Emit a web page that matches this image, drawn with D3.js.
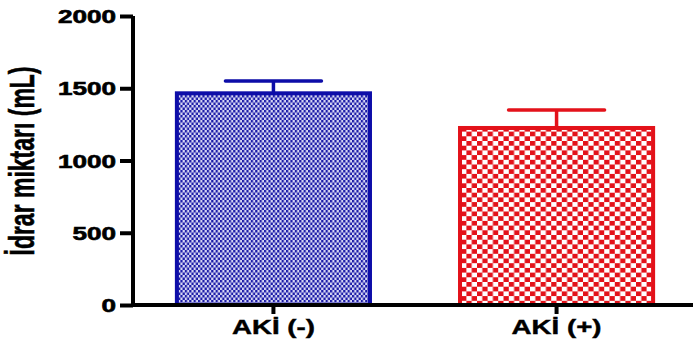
<!DOCTYPE html>
<html>
<head>
<meta charset="utf-8">
<script src="https://cdn.jsdelivr.net/npm/d3@7"></script>
<style>
  body { margin: 0; background: #fff; }
  svg { display: block; font-family: "Liberation Sans", Arial, sans-serif; font-weight: bold; }
</style>
</head>
<body>
<svg id="chart"></svg>
<script>
// values
const groups = ['AKİ (-)', 'AKİ (+)'];
const means = [1465, 1225];
const errors = [85, 125];
const yTicks = [0, 500, 1000, 1500, 2000];
const yTitle = 'İdrar miktarı (mL)';
const strokeColors = ['#0d0da8', '#e3121a'];

const WIDTH = 693, HEIGHT = 345;
const textStretch = 1.5; // the source image is stretched sideways

const svg = d3.select('#chart')
  .attr('width', WIDTH)
  .attr('height', HEIGHT);

const x = d3.scaleBand()
  .domain(groups)
  .range([133, 697])
  .paddingInner(0.318)
  .paddingOuter(0.155);

const y = d3.scaleLinear()
  .domain([0, 2000])
  .range([305, 16]);

// fill patterns: fine blue checker, coarser red checker
const defs = svg.append('defs');
const pBlue = defs.append('pattern')
  .attr('id', 'pat0')
  .attr('patternUnits', 'userSpaceOnUse')
  .attr('width', 4.4).attr('height', 5);
pBlue.append('rect').attr('width', 4.4).attr('height', 5).attr('fill', '#d6d6f4');
pBlue.append('rect').attr('width', 2.2).attr('height', 2.5).attr('fill', '#1c1ca8');
pBlue.append('rect').attr('x', 2.2).attr('y', 2.5).attr('width', 2.2).attr('height', 2.5).attr('fill', '#1c1ca8');

const pRed = defs.append('pattern')
  .attr('id', 'pat1')
  .attr('patternUnits', 'userSpaceOnUse')
  .attr('width', 10.6).attr('height', 9.4);
pRed.append('rect').attr('width', 10.6).attr('height', 9.4).attr('fill', '#fff');
pRed.append('rect').attr('width', 5.3).attr('height', 4.7).attr('fill', '#e3121a');
pRed.append('rect').attr('x', 5.3).attr('y', 4.7).attr('width', 5.3).attr('height', 4.7).attr('fill', '#e3121a');

// bars
const bars = svg.selectAll('.bar')
  .data(groups)
  .enter().append('g')
  .attr('class', 'bar');

bars.append('rect')
  .attr('x', d => x(d))
  .attr('y', (d, i) => y(means[i]))
  .attr('width', x.bandwidth())
  .attr('height', (d, i) => y(0) - y(means[i]))
  .attr('fill', (d, i) => `url(#pat${i})`)
  .attr('stroke', (d, i) => strokeColors[i])
  .attr('stroke-width', 4);

// error bars (upper only)
const cx = d => x(d) + x.bandwidth() / 2;
bars.append('line')
  .attr('x1', cx).attr('x2', cx)
  .attr('y1', (d, i) => y(means[i]))
  .attr('y2', (d, i) => y(means[i] + errors[i]))
  .attr('stroke', (d, i) => strokeColors[i])
  .attr('stroke-width', 3.5);

bars.append('line')
  .attr('x1', d => cx(d) - 48).attr('x2', d => cx(d) + 48)
  .attr('y1', (d, i) => y(means[i] + errors[i]))
  .attr('y2', (d, i) => y(means[i] + errors[i]))
  .attr('stroke', (d, i) => strokeColors[i])
  .attr('stroke-width', 3.5)
  .attr('stroke-linecap', 'round');

// axes
const yAxis = svg.append('g')
  .attr('transform', `translate(${x.range()[0]},0)`)
  .call(d3.axisLeft(y).tickValues(yTicks).tickSize(13).tickSizeOuter(0).tickFormat(d3.format('d')));

const xAxis = svg.append('g')
  .attr('transform', `translate(0,${y(0)})`)
  .call(d3.axisBottom(x).tickSize(9).tickSizeOuter(0));

svg.selectAll('.domain, .tick line')
  .attr('stroke', '#000')
  .attr('stroke-width', 4);

yAxis.select('.domain').attr('d', `M0,${y.range()[1]}V${y.range()[0] + 2}`);
xAxis.select('.domain').attr('d', `M${x.range()[0] - 2},0H${WIDTH}`);

yAxis.selectAll('.tick text')
  .attr('x', null).attr('dy', null)
  .attr('transform', `translate(-17,6.5) scale(1.45,1)`)
  .attr('font-size', 18)
  .attr('font-family', '"Liberation Sans", Arial, sans-serif')
  .attr('font-weight', 'bold')
  .attr('fill', '#000')
  .attr('stroke', '#000')
  .attr('stroke-width', 0.6);

xAxis.selectAll('.tick text')
  .attr('y', null).attr('dy', null)
  .attr('transform', `translate(0,29) scale(${textStretch - 0.08},1)`)
  .attr('font-size', 19.5)
  .attr('font-family', '"Liberation Sans", Arial, sans-serif')
  .attr('font-weight', 'bold')
  .attr('fill', '#000')
  .attr('stroke', '#000')
  .attr('stroke-width', 0.4);

// y axis title
svg.append('text')
  .attr('transform', `translate(34,161) scale(1.5,1) rotate(-90)`)
  .attr('text-anchor', 'middle')
  .attr('font-size', 23)
  .attr('fill', '#000')
  .attr('stroke', '#000')
  .attr('stroke-width', 0.4)
  .text(yTitle);
</script>
</body>
</html>
